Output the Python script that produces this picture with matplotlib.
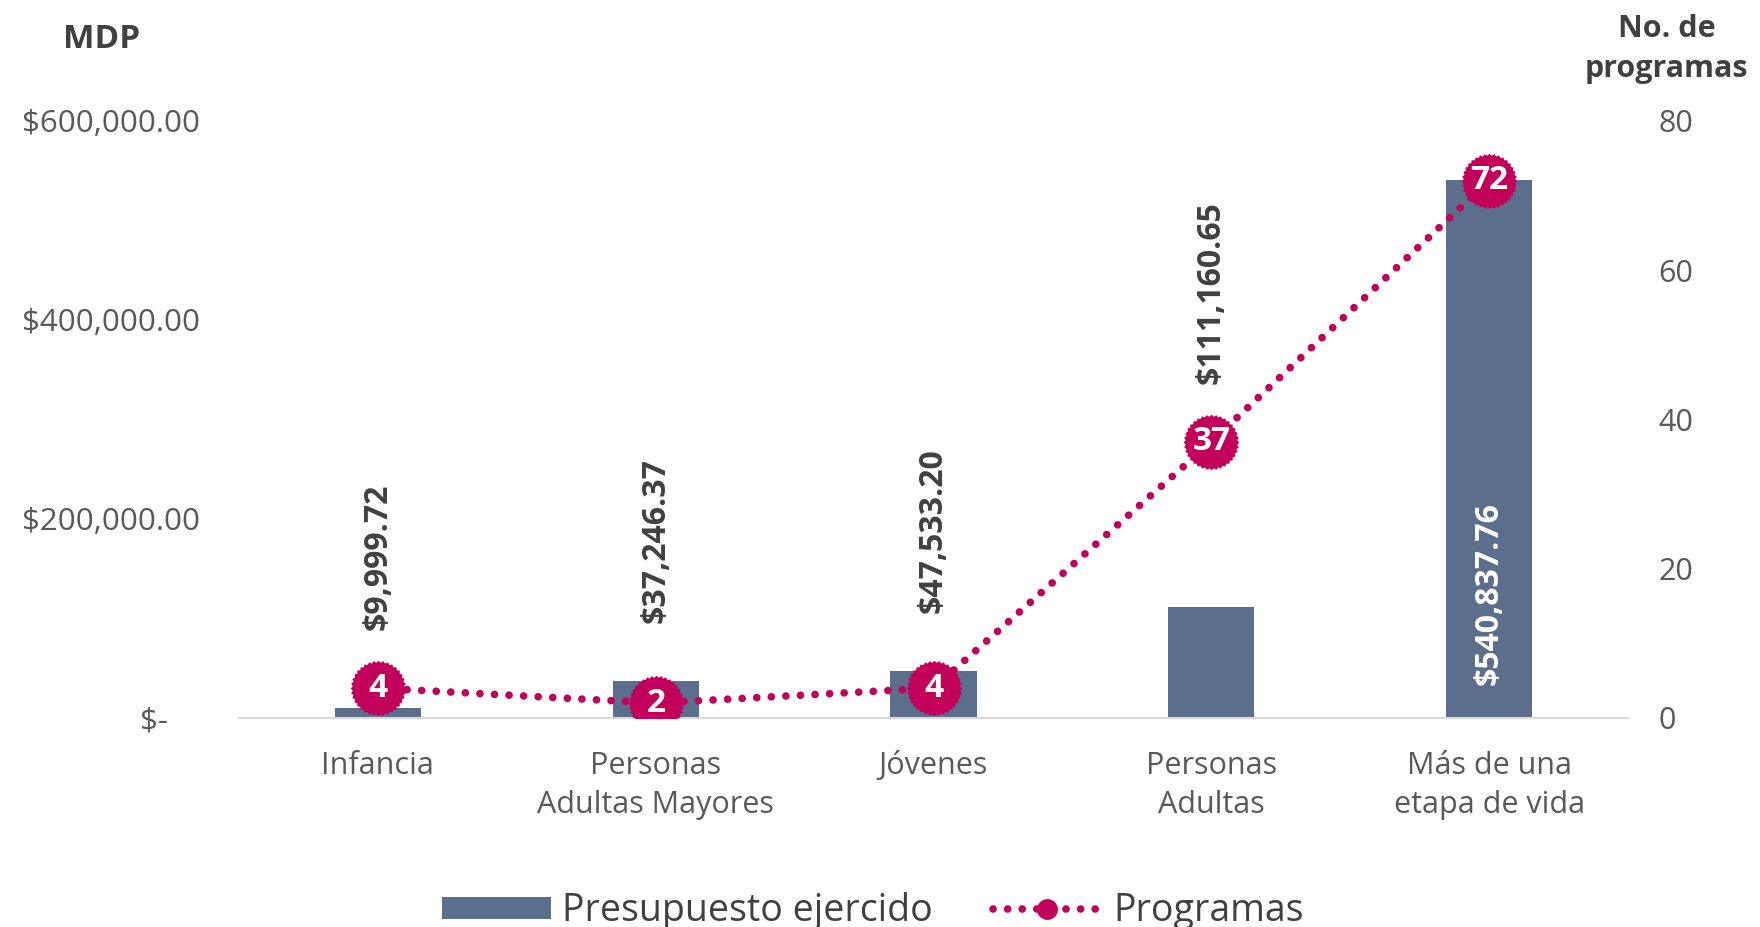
import matplotlib
matplotlib.use("Agg")
import matplotlib.pyplot as plt
import numpy as np
from matplotlib.path import Path
from matplotlib.lines import Line2D
from matplotlib.patches import Patch

plt.rcParams["font.family"] = ["Open Sans", "DejaVu Sans"]

categories = ["Infancia", "Personas\nAdultas Mayores", "Jóvenes", "Personas\nAdultas", "Más de una\netapa de vida"]
presupuesto = [9999.72, 37246.37, 47533.20, 111160.65, 540837.76]
programas = [4, 2, 4, 37, 72]
left_ticks = [0, 200000, 400000, 600000]
right_ticks = [0, 20, 40, 60, 80]

BAR = "#5b6e8c"
MAG = "#c2005b"
TXT = "#595959"
LBL = "#404040"

# scalloped circle marker
n = 36
ang = np.linspace(0, 2 * np.pi, 2 * n, endpoint=False)
rad = np.where(np.arange(2 * n) % 2 == 0, 1.0, 0.93)
verts = np.column_stack([rad * np.cos(ang), rad * np.sin(ang)])
verts = np.vstack([verts, verts[:1]])
scallop = Path(verts, [Path.MOVETO] + [Path.LINETO] * (2 * n - 1) + [Path.CLOSEPOLY])

fig = plt.figure(figsize=(17.6, 9.27), dpi=100)
ax = fig.add_axes([0.1358, 0.2255, 0.925 - 0.1358, 0.8695 - 0.2255])
ax2 = ax.twinx()

x = np.arange(len(categories))
ax.bar(x, presupuesto, width=0.31, color=BAR, zorder=2)
ax.set_xlim(-0.5, 4.5)
ax.set_ylim(0, 600000)
ax2.set_ylim(0, 80)

ax.set_yticks(left_ticks)
ax.set_yticklabels(["$-    " if v == 0 else f"${v:,.2f}" for v in left_ticks])
ax2.set_yticks(right_ticks)
ax.set_xticks(x)
ax.set_xticklabels(categories, linespacing=1.4)

ax.tick_params(axis="y", length=0, pad=28, labelsize=22.5, labelcolor=TXT)
ax.tick_params(axis="x", length=0, pad=24, labelsize=22, labelcolor=TXT)
ax2.tick_params(axis="y", length=0, pad=22, labelsize=22, labelcolor=TXT)

for a in (ax, ax2):
    for s in a.spines.values():
        s.set_visible(False)
ax.spines["bottom"].set_visible(True)
ax.spines["bottom"].set_color("#d9d9d9")
ax.spines["bottom"].set_linewidth(1.5)

# line + markers
ax2.plot(x, programas, color=MAG, lw=5.5, linestyle=(0, (0.01, 1.9)),
         dash_capstyle="round", zorder=3)
ax2.plot(x, programas, linestyle="none", marker=scallop, markersize=40,
         color=MAG, markeredgewidth=0, zorder=4)
for xi, p in zip(x, programas):
    ax2.text(xi, p, str(p), ha="center", va="center", color="white",
             fontsize=24, fontweight="bold", zorder=5)

# bar value labels
scale = 600000 / 80
for i, (xi, v, p) in enumerate(zip(x, presupuesto, programas)):
    lab = f"${v:,.2f}"
    if i == len(x) - 1:
        ax.text(xi, 33000, lab, rotation=90, ha="center", va="bottom",
                color="white", fontsize=23, fontweight="bold", zorder=6)
    else:
        y = max(v, p * scale) + 58000
        ax.text(xi, y, lab, rotation=90, ha="center", va="bottom",
                color=LBL, fontsize=23, fontweight="bold", zorder=6)

fig.text(0.058, 0.957, "MDP", ha="center", va="center", fontsize=24,
         fontweight="bold", color=LBL)
fig.text(0.947, 0.947, "No. de\nprogramas", ha="center", va="center",
         fontsize=22, fontweight="bold", color=LBL, linespacing=1.45)

handles = [Patch(facecolor=BAR, edgecolor="none"),
           Line2D([0], [0], color=MAG, lw=5.5, linestyle=(0, (0.01, 1.9)),
                  dash_capstyle="round", marker="o", markersize=14,
                  markevery=[1])]
leg = fig.legend(handles, ["Presupuesto ejercido", "Programas"], loc="lower center",
                 bbox_to_anchor=(0.496, -0.04), ncol=2, frameon=False,
                 fontsize=27, handlelength=2.9, handleheight=0.55,
                 columnspacing=1.6, handletextpad=0.3)
for t in leg.get_texts():
    t.set_color(LBL)

fig.savefig("out.png", dpi=100)
plt.close(fig)
